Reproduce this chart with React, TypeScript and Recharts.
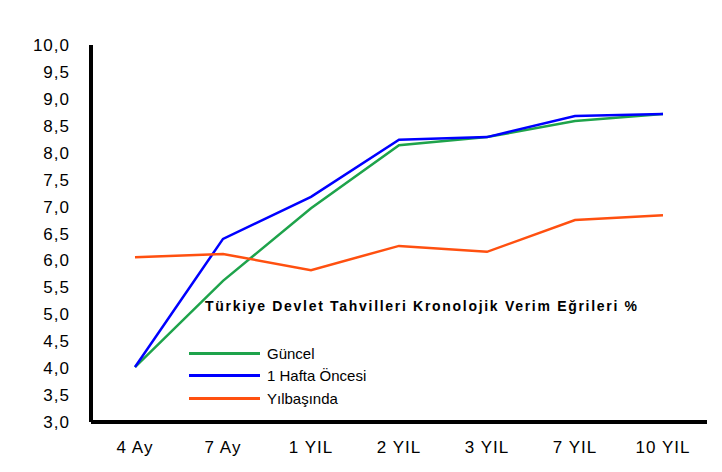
import { Line, LineChart, XAxis, YAxis } from "recharts";

const categories = ["4 Ay", "7 Ay", "1 YIL", "2 YIL", "3 YIL", "7 YIL", "10 YIL"];
const guncel = [4.02, 5.62, 6.97, 8.14, 8.29, 8.59, 8.72];
const birHafta = [4.02, 6.4, 7.18, 8.24, 8.29, 8.68, 8.72];
const yilbasi = [6.06, 6.12, 5.82, 6.27, 6.16, 6.75, 6.84];
const yTicks = [3, 3.5, 4, 4.5, 5, 5.5, 6, 6.5, 7, 7.5, 8, 8.5, 9, 9.5, 10];

const series = [
  { key: "guncel", name: "Güncel", color: "#1ea34b" },
  { key: "hafta", name: "1 Hafta Öncesi", color: "#0000ff" },
  { key: "yilbasi", name: "Yılbaşında", color: "#ff5010" },
];

const data = categories.map((c, i) => ({
  name: c,
  guncel: guncel[i],
  hafta: birHafta[i],
  yilbasi: yilbasi[i],
}));

const font = "'Liberation Sans', Arial, sans-serif";
const tickStyle = { fill: "#000", fontSize: 17, fontFamily: font, letterSpacing: 1 };

export default function App() {
  return (
    <div style={{ position: "absolute", left: 0, top: 0, width: 722, height: 472, background: "#fff" }}>
      <LineChart
        width={722}
        height={472}
        data={data}
        margin={{ top: 45, right: 15, bottom: 0, left: 0 }}
      >
        <XAxis
          dataKey="name"
          scale="band"
          height={50}
          tickLine={false}
          axisLine={{ stroke: "#000", strokeWidth: 4 }}
          tick={tickStyle}
          tickMargin={13}
          interval={0}
        />
        <YAxis
          width={91}
          domain={[3, 10]}
          ticks={yTicks}
          interval={0}
          tickLine={false}
          axisLine={{ stroke: "#000", strokeWidth: 4 }}
          tick={tickStyle}
          tickMargin={15}
          tickFormatter={(v: number) => v.toFixed(1).replace(".", ",")}
        />
        {series.map((s) => (
          <Line
            key={s.key}
            type="linear"
            dataKey={s.key}
            name={s.name}
            stroke={s.color}
            strokeWidth={2.5}
            dot={false}
            activeDot={false}
            isAnimationActive={false}
          />
        ))}
      </LineChart>
      <div
        style={{
          position: "absolute",
          left: 205,
          top: 298,
          fontFamily: font,
          fontSize: 14,
          fontWeight: "bold",
          letterSpacing: 1.7,
          whiteSpace: "nowrap",
          color: "#000",
        }}
      >
        Türkiye Devlet Tahvilleri Kronolojik Verim Eğrileri %
      </div>
      <div style={{ position: "absolute", left: 189, top: 342, fontFamily: font, fontSize: 15, color: "#000" }}>
        {series.map((s) => (
          <div key={s.key} style={{ display: "flex", alignItems: "center", height: 22.5 }}>
            <span style={{ width: 71, height: 3, background: s.color, marginRight: 7 }} />
            <span>{s.name}</span>
          </div>
        ))}
      </div>
    </div>
  );
}
